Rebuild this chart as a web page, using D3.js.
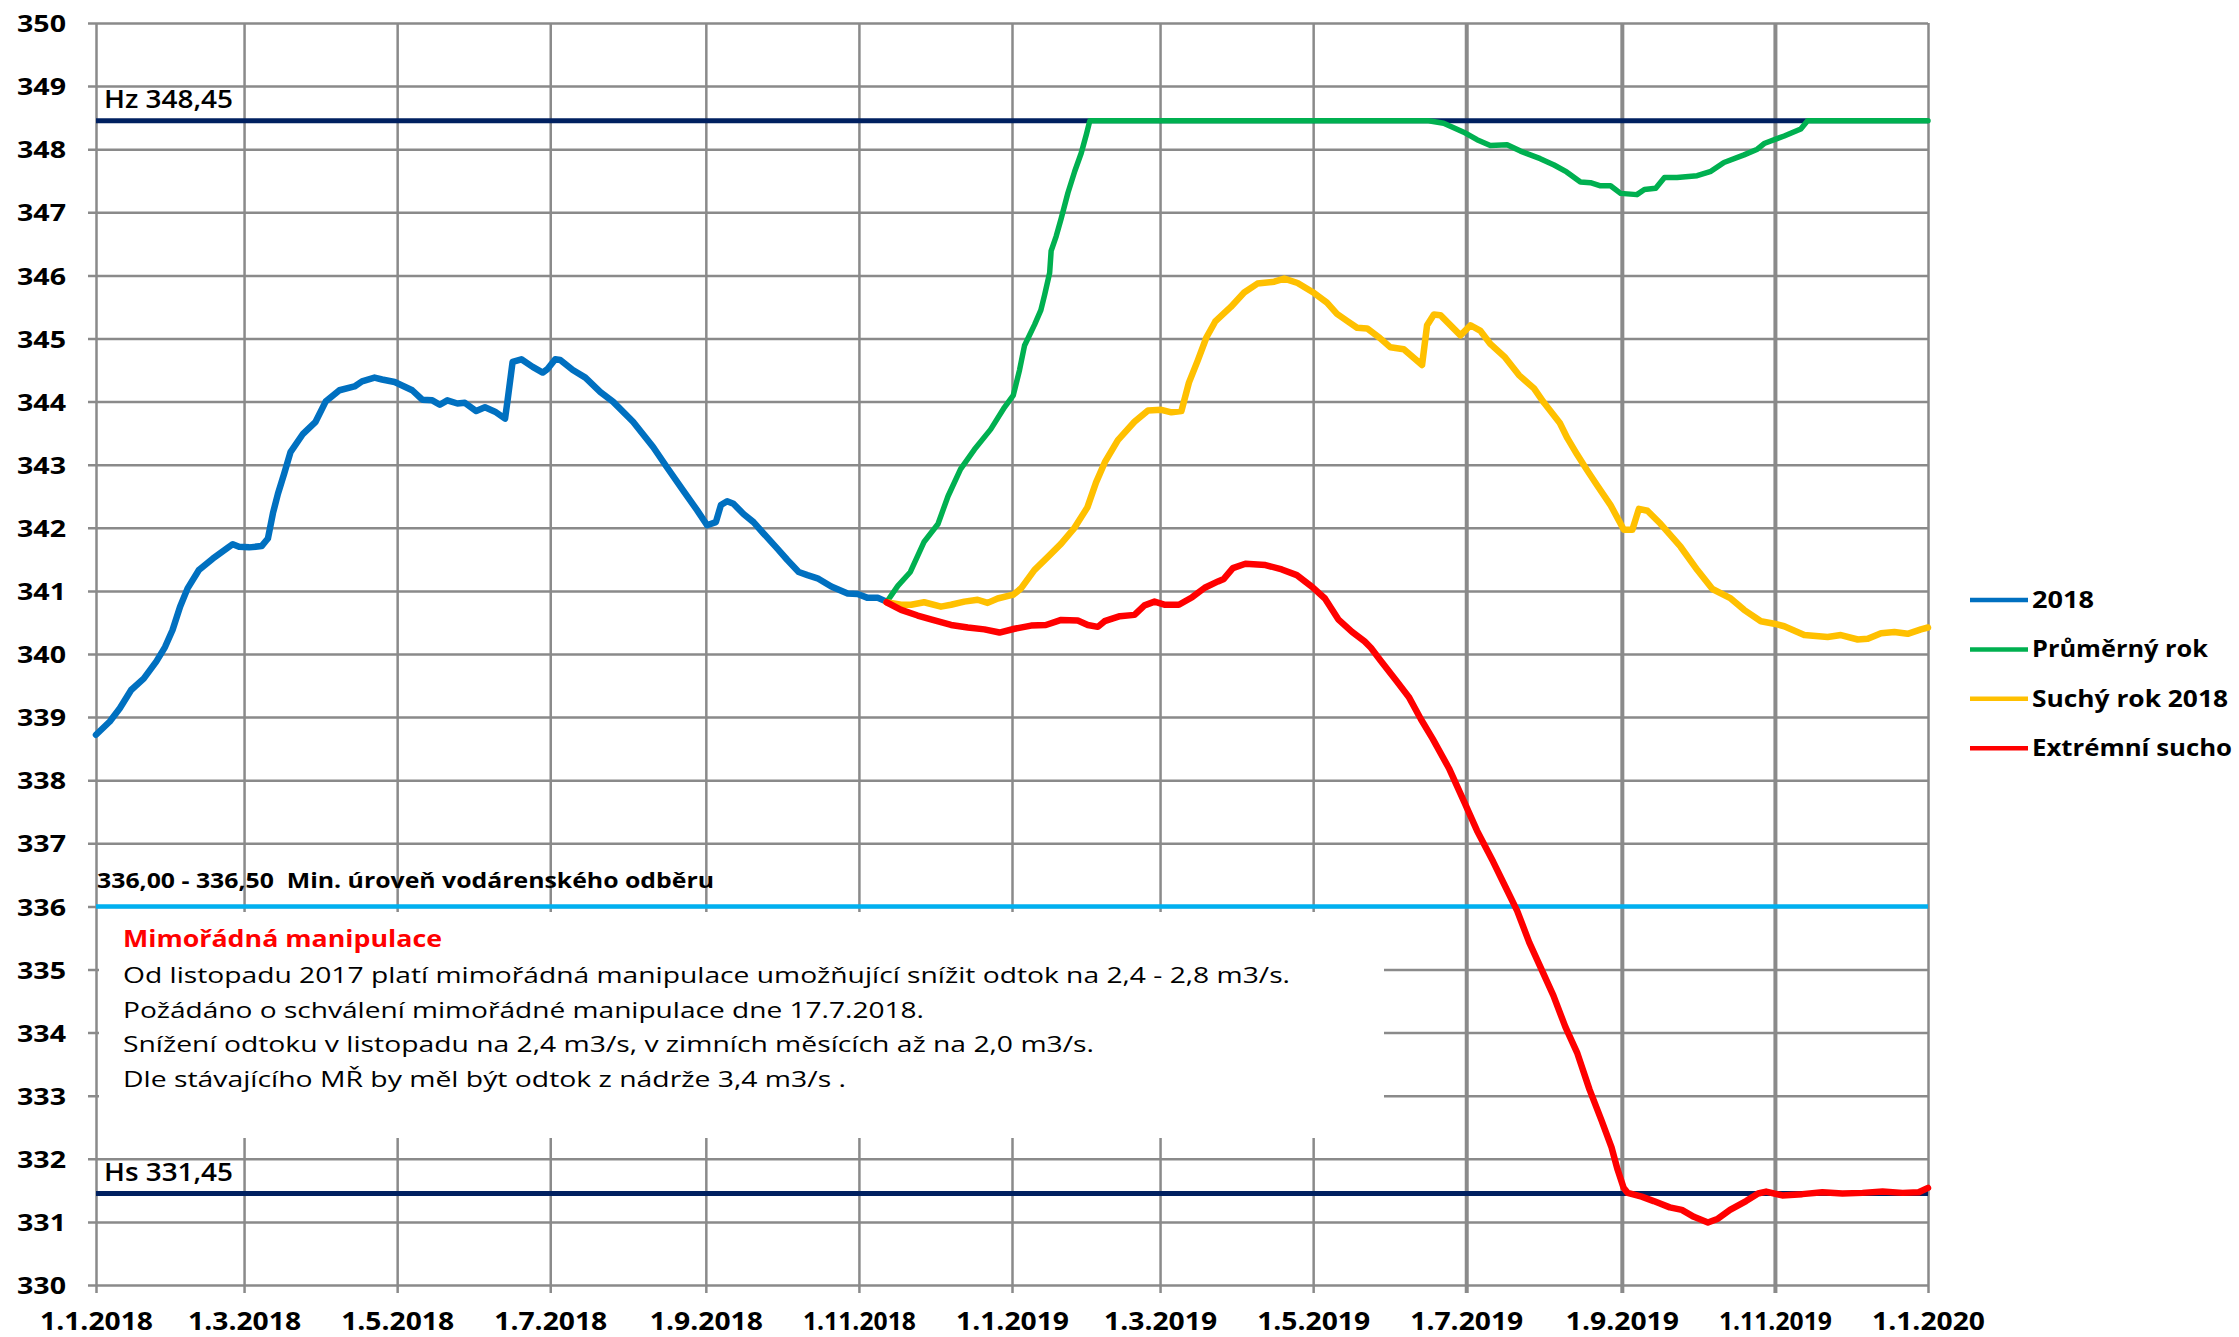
<!DOCTYPE html>
<html><head><meta charset="utf-8">
<script src="https://cdn.jsdelivr.net/npm/d3@7"></script>
<style>body{margin:0;background:#fff} svg{display:block}</style>
</head><body>
<svg id="c" width="2239" height="1337"></svg>
<script>
// ---------- DATA ----------
const startDate = "2018-01-01";
const endDate = "2020-01-01";
const yTicks = d3.range(330, 351, 1);
const seriesNames = ["2018", "Průměrný rok", "Suchý rok 2018", "Extrémní sucho"];
const seriesColors = ["#0070C0", "#00B050", "#FFC000", "#FF0000"];
// levels of limit lines (m n. m.)
const limitLevels = [348.45, 331.45];
const limitLabels = ["Hz 348,45", "Hs 331,45"];
const minIntakeLevel = 336.0;
const minIntakeLabel = "336,00 - 336,50  Min. úroveň vodárenského odběru";
const noteTitle = "Mimořádná manipulace";
const noteLines = [
  "Od listopadu 2017 platí mimořádná manipulace umožňující snížit odtok na 2,4 - 2,8 m3/s.",
  "Požádáno o schválení mimořádné manipulace dne 17.7.2018.",
  "Snížení odtoku v listopadu na 2,4 m3/s, v zimních měsících až na 2,0 m3/s.",
  "Dle stávajícího MŘ by měl být odtok z nádrže 3,4 m3/s ."
];
// series: [days since 1.1.2018, water level]
const level2018 = [[0,338.72],[5.5,338.93],[9.5,339.14],[14,339.43],[19,339.61],[24,339.88],[27.5,340.11],[30.5,340.38],[33.5,340.75],[36.5,341.04],[41,341.33],[46.5,341.51],[52,341.67],[54.5,341.74],[57,341.70],[61,341.69],[66,341.71],[68.5,341.83],[70.5,342.23],[72.5,342.54],[75,342.86],[77.5,343.20],[82.5,343.49],[87.5,343.68],[91.5,344.0],[97,344.18],[103,344.24],[106,344.32],[111,344.38],[114,344.35],[119,344.31],[126,344.18],[130,344.03],[134,344.02],[137,343.95],[140,344.02],[144,343.97],[147,343.98],[151.5,343.85],[155,343.91],[159,343.84],[163,343.73],[164,344.02],[166,344.63],[169.5,344.67],[174,344.55],[178,344.46],[180,344.52],[183,344.67],[185,344.66],[190,344.5],[195,344.38],[201,344.15],[206,344.0],[214,343.68],[222,343.28],[227.5,342.96],[234,342.59],[239.5,342.28],[243.5,342.04],[247,342.09],[249,342.36],[251.5,342.42],[254,342.38],[258,342.22],[262,342.09],[266,341.91],[271.5,341.67],[275.5,341.49],[280,341.30],[283.5,341.25],[287.5,341.20],[293,341.07],[299.5,340.96],[303.5,340.95],[307.5,340.89],[311.5,340.89],[315,340.83]];
const levelAverage = [[315,340.82],[319.5,341.08],[324.5,341.3],[330,341.78],[335.5,342.06],[339.5,342.5],[344.5,342.93],[350,343.24],[356.5,343.56],[362,343.91],[365.5,344.1],[368,344.5],[370,344.89],[374,345.22],[376.5,345.45],[378,345.69],[380,346.04],[380.6,346.39],[382.6,346.62],[384.6,346.9],[387.3,347.31],[390,347.65],[392.6,347.94],[394.6,348.23],[396,348.45],[531,348.45],[537,348.41],[545,348.27],[550.3,348.15],[555.6,348.06],[562.3,348.07],[567.6,347.97],[575.5,347.85],[581,347.75],[586,347.64],[591.5,347.48],[595.5,347.47],[599.5,347.42],[603.5,347.42],[607.5,347.30],[614,347.28],[617,347.36],[621.5,347.38],[625,347.55],[630,347.55],[638,347.58],[643.5,347.65],[648.7,347.79],[656.7,347.91],[662,348.0],[664.7,348.09],[672.7,348.21],[679.3,348.32],[682,348.45],[730,348.45]];
const levelDry2018 = [[315,340.82],[320.8,340.78],[324.8,340.78],[330,340.82],[336.7,340.75],[340.7,340.78],[346,340.83],[351.3,340.86],[355.3,340.81],[359.3,340.88],[365.5,340.94],[368.6,341.04],[373.9,341.33],[379.3,341.54],[384.6,341.75],[389.9,342.0],[395,342.32],[398.5,342.72],[402,343.04],[407.2,343.39],[413.8,343.68],[419.2,343.86],[424.5,343.87],[428.5,343.83],[432.5,343.85],[435.5,344.3],[439,344.65],[442.5,345.02],[446,345.27],[452.2,345.5],[457.5,345.73],[462.8,345.87],[469.5,345.9],[473.5,345.95],[478.8,345.88],[485.4,345.72],[490.5,345.57],[494.5,345.39],[498.5,345.28],[502.5,345.17],[506.5,345.16],[511.5,345.01],[515.8,344.86],[521.1,344.83],[528.4,344.58],[530.4,345.21],[533.1,345.38],[535.7,345.37],[543.7,345.05],[547.7,345.21],[551.7,345.12],[555.7,344.91],[561.5,344.7],[567,344.42],[573,344.21],[577,343.98],[583.3,343.66],[586.3,343.42],[590.2,343.16],[594.2,342.91],[598.2,342.67],[603.5,342.36],[608.8,341.97],[612.2,341.97],[614.8,342.30],[618.2,342.27],[623.5,342.06],[631.4,341.70],[638.1,341.33],[644.1,341.03],[651.4,340.88],[656.7,340.70],[663.4,340.52],[668.7,340.48],[672.7,340.44],[680.7,340.30],[690,340.27],[695.3,340.30],[702,340.23],[706,340.24],[711.3,340.33],[716.6,340.35],[721.9,340.32],[727.2,340.39],[730,340.42]];
const levelExtreme = [[315,340.82],[320.8,340.70],[327.4,340.61],[332.7,340.55],[340.7,340.46],[347.4,340.42],[354,340.39],[360,340.34],[366,340.40],[372.6,340.45],[378.5,340.46],[384.6,340.54],[391.2,340.53],[395.2,340.46],[399.2,340.43],[401.9,340.52],[408,340.60],[413.8,340.62],[417.8,340.77],[421.8,340.83],[426,340.78],[431.5,340.78],[436.8,340.90],[441.8,341.05],[447.1,341.15],[449.4,341.19],[453,341.36],[458,341.43],[466,341.41],[472.5,341.34],[478.5,341.25],[484.7,341.06],[489.7,340.88],[495,340.55],[500.5,340.35],[505.5,340.2],[508,340.10],[512,339.89],[518.3,339.57],[523.1,339.32],[527.9,338.97],[532.7,338.65],[539.1,338.19],[545.5,337.63],[550.3,337.20],[556.7,336.71],[561.5,336.32],[566.3,335.93],[571.1,335.43],[575.9,335.01],[580.7,334.59],[585.5,334.09],[590.3,333.67],[595.1,333.10],[599.9,332.61],[603.9,332.18],[606.3,331.83],[608.7,331.54],[610.3,331.46],[615.9,331.40],[620.7,331.33],[627.1,331.23],[631.9,331.19],[636.7,331.08],[642.3,330.99],[646.3,331.05],[651.1,331.19],[657.5,331.33],[662.3,331.45],[665.5,331.48],[671.9,331.42],[679.9,331.44],[687.9,331.47],[695.9,331.45],[703.9,331.46],[711.9,331.48],[719.9,331.46],[726.3,331.47],[730,331.54]];
const allSeries = [level2018, levelAverage, levelDry2018, levelExtreme];

// ---------- CHART ----------
const FONT = "'Open Sans', 'Liberation Sans', sans-serif";
const svg = d3.select("#c");
svg.append("rect").attr("width", 2239).attr("height", 1337).attr("fill", "#fff");
const L = 96, R = 1928, T = 23, B = 1285;
const t0 = new Date(startDate);
const toDate = d => new Date(t0.getTime() + d * 864e5);
const x = d3.scaleUtc().domain([new Date(startDate), new Date(endDate)]).range([L, R]);
const y = d3.scaleLinear().domain([330, 350]).range([B, T]);
const GRID = "#8a8a8a";

// horizontal grid + y labels
const gy = svg.append("g").attr("transform", `translate(${R},0)`)
  .call(d3.axisLeft(y).tickValues(yTicks).tickSize(R - L + 8).tickPadding(22).tickFormat(d3.format("d")));
gy.select(".domain").remove();
gy.selectAll("line").attr("stroke", GRID).attr("stroke-width", 2.5);
gy.selectAll("text").attr("font-family", FONT).attr("font-weight", "bold").attr("font-size", 24)
  .attr("fill", "#000").attr("dy", "0.36em").attr("textLength", 49).attr("lengthAdjust", "spacingAndGlyphs");

// vertical grid + x labels
const fmt = d => `${d.getUTCDate()}.${d.getUTCMonth() + 1}.${d.getUTCFullYear()}`;
const gx = svg.append("g").attr("transform", `translate(0,${T})`)
  .call(d3.axisBottom(x).ticks(d3.utcMonth.every(2)).tickSize(B - T + 8).tickPadding(19).tickFormat(fmt));
gx.select(".domain").remove();
gx.selectAll("line").attr("stroke", GRID)
  .attr("stroke-width", d => (d.getUTCFullYear() === 2019 && d.getUTCMonth() >= 6) ? 4 : 2.5);
gx.selectAll("text").attr("font-family", FONT).attr("font-weight", "bold").attr("font-size", 25)
  .attr("fill", "#000").attr("textLength", 113).attr("lengthAdjust", "spacingAndGlyphs");

// white note box covering the grid
svg.append("rect").attr("x", 99).attr("y", 912).attr("width", 1285).attr("height", 226).attr("fill", "#fff");

// limit lines
svg.selectAll(".lim").data(limitLevels).enter().append("line")
  .attr("x1", L).attr("x2", R).attr("y1", d => y(d)).attr("y2", d => y(d))
  .attr("stroke", "#002060").attr("stroke-width", 5);
svg.append("line").attr("x1", L).attr("x2", R).attr("y1", y(minIntakeLevel)).attr("y2", y(minIntakeLevel))
  .attr("stroke", "#00B0F0").attr("stroke-width", 4.5);

// labels of limit lines
svg.selectAll(".limlab").data(limitLabels).enter().append("text")
  .attr("x", 104).attr("y", (d, i) => y(limitLevels[i]) - 13)
  .attr("font-family", FONT).attr("font-size", 25).attr("font-weight", 600).attr("fill", "#000")
  .attr("textLength", 129).attr("lengthAdjust", "spacingAndGlyphs").text(d => d);
svg.append("text").attr("x", 97).attr("y", y(minIntakeLevel) - 18)
  .attr("font-family", FONT).attr("font-weight", "bold").attr("font-size", 21).attr("fill", "#000")
  .style("white-space", "pre")
  .attr("textLength", 617).attr("lengthAdjust", "spacingAndGlyphs").text(minIntakeLabel);

// note text
svg.append("text").attr("x", 123).attr("y", 947)
  .attr("font-family", FONT).attr("font-weight", "bold").attr("font-size", 23).attr("fill", "#FF0000")
  .attr("textLength", 319).attr("lengthAdjust", "spacingAndGlyphs").text(noteTitle);
const noteWidths = [1167, 801, 971, 723];
svg.selectAll(".note").data(noteLines).enter().append("text")
  .attr("x", 123).attr("y", (d, i) => 983 + i * 34.7)
  .attr("font-family", FONT).attr("font-size", 22).attr("fill", "#000")
  .attr("textLength", (d, i) => noteWidths[i]).attr("lengthAdjust", "spacingAndGlyphs").text(d => d);

// series
const line = d3.line().x(d => x(toDate(d[0]))).y(d => y(d[1]));
const widths = [6.5, 5.5, 6.5, 6.5];
svg.selectAll(".series").data(allSeries).enter().append("path")
  .attr("d", line).attr("fill", "none")
  .attr("stroke", (d, i) => seriesColors[i]).attr("stroke-width", (d, i) => widths[i])
  .attr("stroke-linejoin", "round").attr("stroke-linecap", "round");

// legend
const legendWidths = [62, 176, 196, 200];
const lg = svg.selectAll(".leg").data(seriesNames).enter().append("g")
  .attr("transform", (d, i) => `translate(1970,${600 + i * 49.4})`);
lg.append("line").attr("x1", 0).attr("x2", 58).attr("stroke", (d, i) => seriesColors[i]).attr("stroke-width", 4.5);
lg.append("text").attr("x", 62).attr("y", 8).attr("font-family", FONT).attr("font-weight", "bold")
  .attr("font-size", 24).attr("fill", "#000")
  .attr("textLength", (d, i) => legendWidths[i]).attr("lengthAdjust", "spacingAndGlyphs").text(d => d);
</script>
</body></html>
